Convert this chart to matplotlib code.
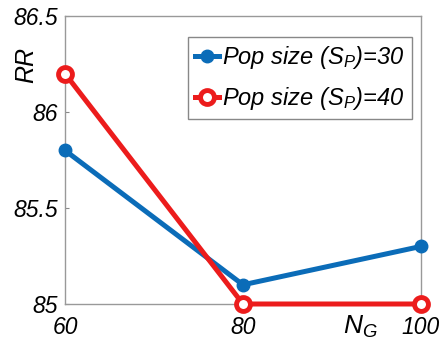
import matplotlib.pyplot as plt
import numpy as np

plt.rcParams['font.family'] = ['Liberation Sans', 'DejaVu Sans']
plt.rcParams['mathtext.fontset'] = 'custom'
plt.rcParams['mathtext.it'] = 'Liberation Sans:italic'
plt.rcParams['mathtext.rm'] = 'Liberation Sans:italic'

ng = [60, 80, 100]
rr_30 = [85.8, 85.1, 85.3]
rr_40 = [86.2, 85.0, 85.0]
yticks = [85, 85.5, 86, 86.5]

blue = '#0b6cb8'
red = '#ec1c1c'

fig = plt.figure(figsize=(4.4, 3.53), dpi=100)
ax = fig.add_axes([65/440, 1 - 304/353, (421-65)/440, (304-16)/353])

ax.plot(ng, rr_30, color=blue, lw=3.6, marker='o', ms=9, mfc=blue, mec=blue,
        label='Pop size (S$_P$)=30', clip_on=False, zorder=3)
ax.plot(ng, rr_40, color=red, lw=3.6, marker='o', ms=10, mfc='white', mec=red,
        mew=3.5, label='Pop size (S$_P$)=40', clip_on=False, zorder=4)

ax.set_xlim(60, 100)
ax.set_ylim(85, 86.5)
ax.set_xticks(ng)
ax.set_yticks(yticks)
ax.set_yticklabels(['85', '85.5', '86', '86.5'])
ax.tick_params(axis='x', length=0, pad=9, labelsize=16.5)
ax.tick_params(axis='y', length=3, direction='in', pad=5, color='#888888', labelsize=16.5)
for lbl in ax.get_xticklabels() + ax.get_yticklabels():
    lbl.set_fontstyle('italic')
for s in ax.spines.values():
    s.set_color('#999999')
    s.set_linewidth(1.0)

ax.text(-0.11, 0.83, 'RR', transform=ax.transAxes, rotation=90,
        fontsize=18, fontstyle='italic', ha='center', va='center')
ax.text(0.83, -0.08, 'N$_G$', transform=ax.transAxes,
        fontsize=19, fontstyle='italic', ha='center', va='center')

leg = ax.legend(loc='upper left', bbox_to_anchor=((188-65)/356, (304-37)/288), fontsize=17,
                handlelength=1.0, handletextpad=0.15, borderpad=0.3,
                labelspacing=0.6, borderaxespad=0, fancybox=False, framealpha=1)
leg.get_frame().set_edgecolor('#888888')
for t in leg.get_texts():
    t.set_fontstyle('italic')

fig.savefig('out.png', dpi=100)
